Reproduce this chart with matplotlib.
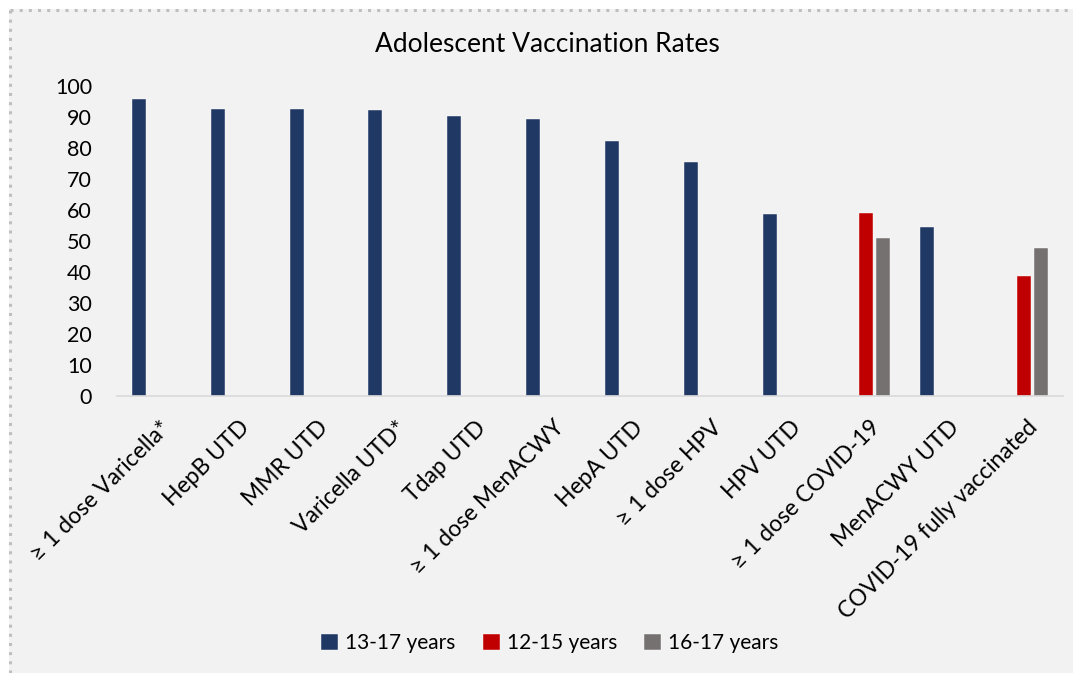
import matplotlib.pyplot as plt
import numpy as np
from matplotlib.patches import Rectangle
from matplotlib.lines import Line2D

# Data
categories = ["≥ 1 dose Varicella*", "HepB UTD", "MMR UTD", "Varicella UTD*",
              "Tdap UTD", "≥ 1 dose MenACWY", "HepA UTD", "≥ 1 dose HPV",
              "HPV UTD", "≥ 1 dose COVID-19", "MenACWY UTD",
              "COVID-19 fully vaccinated"]
teens_13_17 = [95.7, 92.7, 92.6, 92.2, 90.2, 89.5, 82.3, 75.4, 58.8, np.nan, 54.5, np.nan]
teens_12_15 = [np.nan] * 9 + [59.0, np.nan, 38.8]
teens_16_17 = [np.nan] * 9 + [51.1, np.nan, 47.8]
series_names = ["13-17 years", "12-15 years", "16-17 years"]
colors = ["#203864", "#c00000", "#767171"]
yticks = list(range(0, 101, 10))

plt.rcParams['font.family'] = ['Lato', 'DejaVu Sans']

W, H = 1073, 673
fig = plt.figure(figsize=(W / 100, H / 100), dpi=100)
fig.patch.set_facecolor('#f2f2f2')

# white margin + dotted frame at top/left, like the screenshot
fig.patches.append(Rectangle((0, 0), 8.5 / W, 1, transform=fig.transFigure,
                             facecolor='white', edgecolor='none', zorder=0))
fig.patches.append(Rectangle((0, 1 - 8.5 / H), 1, 8.5 / H, transform=fig.transFigure,
                             facecolor='white', edgecolor='none', zorder=0))
fig.lines.append(Line2D([9.5 / W, 9.5 / W], [0, 1 - 9.5 / H], transform=fig.transFigure,
                        color='#bfbfbf', linewidth=2.2, linestyle=(0, (1, 2))))
fig.lines.append(Line2D([9.5 / W, 1], [1 - 9.5 / H, 1 - 9.5 / H], transform=fig.transFigure,
                        color='#bfbfbf', linewidth=2.2, linestyle=(0, (1, 2))))

ax = fig.add_axes([117 / W, 1 - 396 / H, (1063 - 117) / W, 310 / H])
ax.set_facecolor('#f2f2f2')

x = np.arange(len(categories))
slot = 0.222
width = 0.178
for i, (vals, name, c) in enumerate(zip([teens_13_17, teens_12_15, teens_16_17], series_names, colors)):
    ax.bar(x + (i - 1) * slot, vals, width, color=c, label=name,
           edgecolor='#ffffff', linewidth=0.3)

ax.set_xlim(-0.5, len(categories) - 0.5)
ax.set_ylim(0, 100)
ax.set_yticks(yticks)
ax.tick_params(axis='y', length=0, labelsize=15.5, pad=18, labelcolor='#000000')
ax.set_xticks(x + 0.04)
ax.set_xticklabels(categories, rotation=45, ha='right', va='top',
                   rotation_mode='anchor', fontsize=16.5)
ax.tick_params(axis='x', length=0, pad=15)

for s in ['top', 'right', 'left']:
    ax.spines[s].set_visible(False)
ax.spines['bottom'].set_color('#d9d9d9')
ax.spines['bottom'].set_linewidth(1.2)

fig.text(547 / W, 1 - 45 / H, "Adolescent Vaccination Rates", ha='center', va='center',
         fontsize=19, color='#000000')

fig.legend(loc='center', bbox_to_anchor=(550 / W, 1 - 643 / H), ncol=3, frameon=False,
           fontsize=15, handlelength=0.8, handleheight=0.8, handletextpad=0.35,
           columnspacing=1.3)

plt.savefig('out.png', dpi=100, facecolor=fig.get_facecolor())
plt.close()
